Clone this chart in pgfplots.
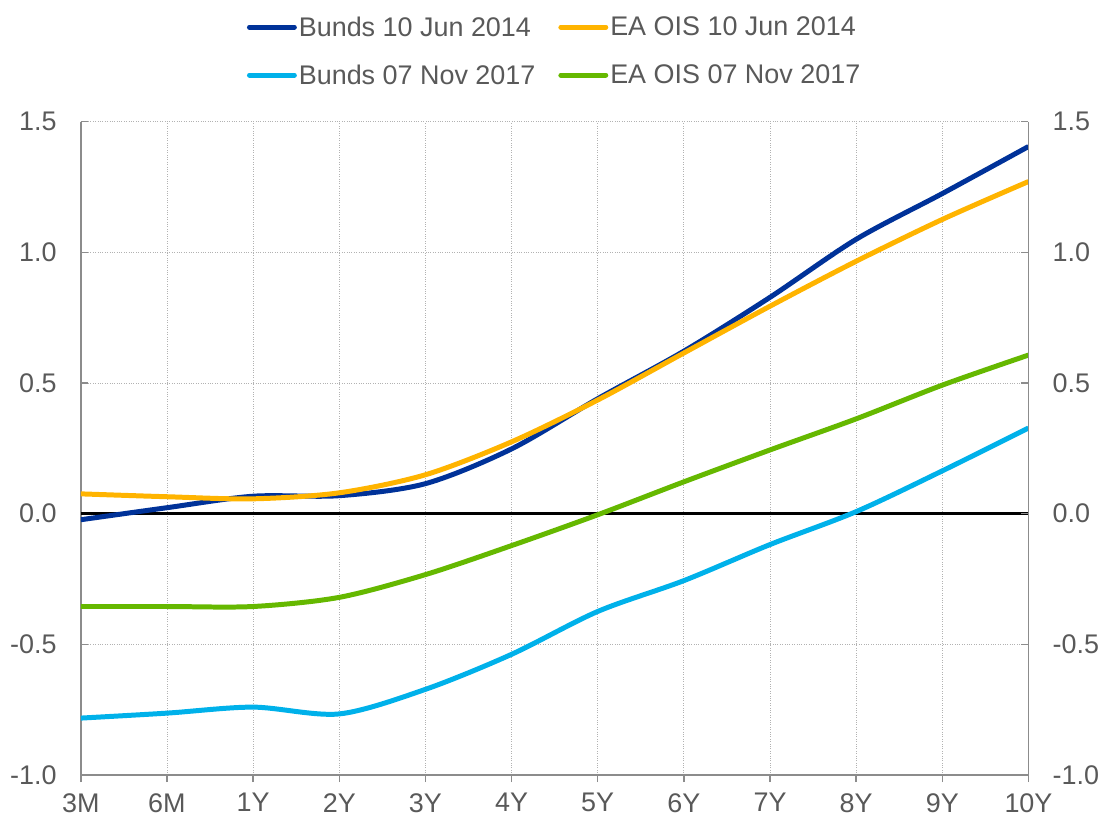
\documentclass[border=0pt]{standalone}
\usepackage{pgfplots}
\pgfplotsset{compat=1.18}
\usepackage{fontspec}
\setmainfont{Liberation Sans}
\definecolor{ecbblue}{HTML}{003299}
\definecolor{ecborange}{HTML}{FFB400}
\definecolor{ecblight}{HTML}{00B1EA}
\definecolor{ecbgreen}{HTML}{65B800}
\definecolor{txt}{HTML}{595959}
\definecolor{axgray}{HTML}{8C8C8C}
\begin{document}
\begin{tikzpicture}
\pgfplotsset{
  common/.style={
    scale only axis, width=950pt, height=655pt,
    xmin=0, xmax=11, ymin=-1, ymax=1.5,
    ytick={-1,-0.5,0,0.5,1,1.5},
    /pgf/number format/assume math mode=true,
    yticklabel style={/pgf/number format/fixed, /pgf/number format/fixed zerofill, /pgf/number format/precision=1},
    tick label style={font=\fontsize{27}{31}\selectfont, text=txt, inner sep=3pt},
    axis line style={axgray, line width=1.5pt},
    tick style={axgray, line width=1.5pt},
    tick align=inside, major tick length=7pt,
  }
}
\begin{axis}[common,
  axis x line*=bottom, axis y line*=left,
  xtick={0,...,11},
  xticklabels={3M,6M,1Y,2Y,3Y,4Y,5Y,6Y,7Y,8Y,9Y,10Y},
  x tick style={yshift=-7pt},
  xticklabel style={yshift=-15pt},
  yticklabel style={xshift=-21pt},
  xmajorgrids, ymajorgrids,
  grid style={dotted, black!30, line width=0.9pt},
  every axis plot/.append style={line width=5pt, smooth},
  legend columns=2,
  legend cell align=left,
  legend image code/.code={\draw[#1, line cap=round] (0pt,0pt) -- (45pt,0pt);},
  legend style={at={(0.5,1)}, anchor=south, yshift=32pt, draw=none, fill=none,
    font=\fontsize{27}{31}\selectfont, text=txt, row sep=23pt,
    /tikz/every even column/.append style={column sep=21pt},
    nodes={inner sep=2pt}},
]
\coordinate (sw) at (rel axis cs:0,0);
\coordinate (ne) at (rel axis cs:1,1);
\addplot[black, line width=2.8pt, sharp plot, forget plot] coordinates {(0,0) (11,0)};
\addplot[ecbblue] coordinates {
(0,-0.023) (1,0.023) (2,0.067) (3,0.069) (4,0.115) (5,0.248) (6,0.44) (7,0.622) (8,0.828) (9,1.05) (10,1.225) (11,1.405)};
\addlegendentry{Bunds 10 Jun 2014}
\addplot[ecborange] coordinates {
(0,0.076) (1,0.065) (2,0.057) (3,0.08) (4,0.149) (5,0.275) (6,0.435) (7,0.615) (8,0.794) (9,0.966) (10,1.126) (11,1.271)};
\addlegendentry{EA OIS 10 Jun 2014}
\addplot[ecblight] coordinates {
(0,-0.782) (1,-0.763) (2,-0.74) (3,-0.766) (4,-0.672) (5,-0.538) (6,-0.374) (7,-0.256) (8,-0.118) (9,0.008) (10,0.164) (11,0.328)};
\addlegendentry{Bunds 07 Nov 2017}
\addplot[ecbgreen] coordinates {
(0,-0.355) (1,-0.355) (2,-0.355) (3,-0.32) (4,-0.233) (5,-0.122) (6,-0.004) (7,0.122) (8,0.244) (9,0.363) (10,0.492) (11,0.607)};
\addlegendentry{EA OIS 07 Nov 2017}
\end{axis}
\begin{axis}[common,
  axis x line=none, axis y line*=right,
  yticklabel style={xshift=21pt},
]
\end{axis}
\path ([shift={(-81pt,-44pt)}]sw) rectangle ([shift={(71pt,122pt)}]ne);
\end{tikzpicture}
\end{document}
